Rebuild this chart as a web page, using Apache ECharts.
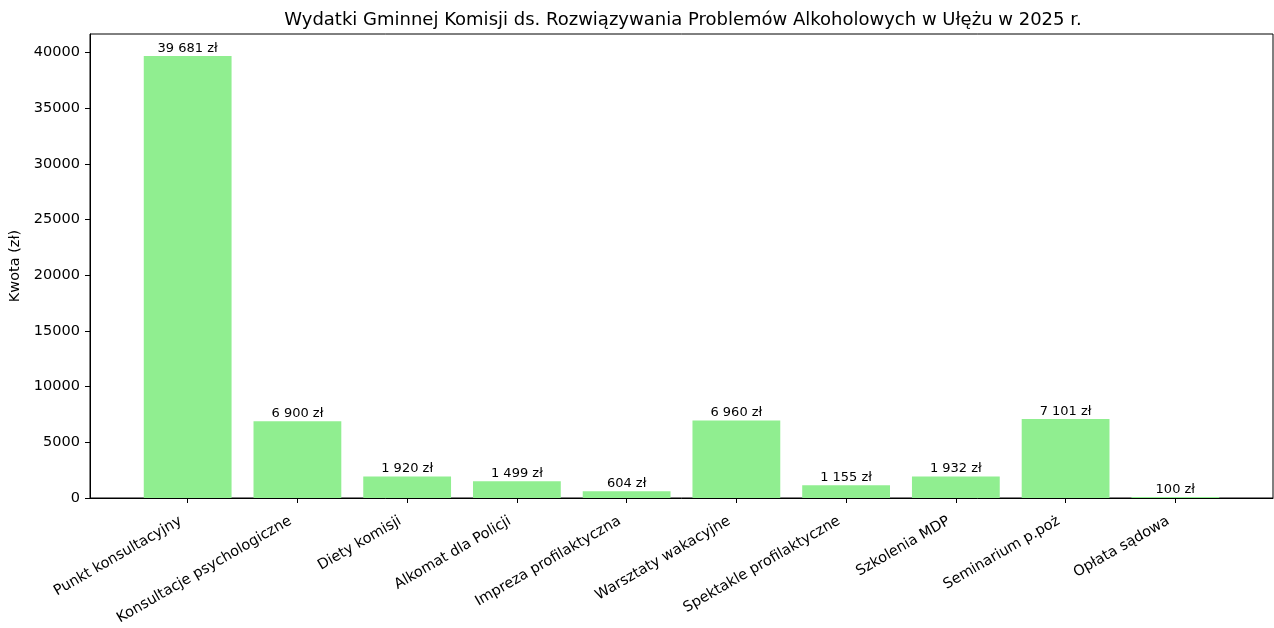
<!DOCTYPE html>
<html>
<head>
<meta charset="utf-8">
<script src="https://cdn.jsdelivr.net/npm/echarts@6/dist/echarts.min.js"></script>
<style>
  html, body { margin: 0; padding: 0; background: #fff; }
  #chart { width: 1274px; height: 628px; }
</style>
</head>
<body>
<div id="chart"></div>
<script>
// Budget lines and amounts (zł)
const categories = [
  'Punkt konsultacyjny',
  'Konsultacje psychologiczne',
  'Diety komisji',
  'Alkomat dla Policji',
  'Impreza profilaktyczna',
  'Warsztaty wakacyjne',
  'Spektakle profilaktyczne',
  'Szkolenia MDP',
  'Seminarium p.poż',
  'Opłata sądowa'
];
const amounts = [39681, 6900, 1920, 1499, 604, 6960, 1155, 1932, 7101, 100];
const yTicks = [0, 5000, 10000, 15000, 20000, 25000, 30000, 35000, 40000];

const FONT = 'DejaVu Sans';
const W = 1274, H = 628;
const gridLeft = 90, gridRight = 1, gridTop = 34, gridBottom = 130;

// x range with 5% padding around bars of relative width 0.8
const xMin = -0.89, xMax = categories.length - 1 + 0.89;
const unitPx = (W - gridLeft - gridRight) / (xMax - xMin);
const barPx = 0.8 * unitPx;
const yMax = Math.max(...amounts) * 1.05;

const fmt = v => String(v).replace(/\B(?=(\d{3})+(?!\d))/g, ' ') + ' zł';
const idx = categories.map((_, i) => i);

const chart = echarts.init(document.getElementById('chart'), null, { renderer: 'canvas' });
chart.setOption({
  animation: false,
  backgroundColor: '#fff',
  textStyle: { fontFamily: FONT },
  title: {
    text: 'Wydatki Gminnej Komisji ds. Rozwiązywania Problemów Alkoholowych w Ułężu w 2025 r.',
    left: 678,
    textAlign: 'center',
    top: 6,
    textStyle: { fontFamily: FONT, fontSize: 18, fontWeight: 'normal', color: '#000' }
  },
  grid: {
    left: gridLeft, right: gridRight, top: gridTop, bottom: gridBottom,
    outerBoundsMode: 'none',
    containLabel: false,
    show: true, borderColor: '#000', borderWidth: 1, backgroundColor: 'transparent'
  },
  xAxis: {
    type: 'value',
    min: xMin,
    max: xMax,
    splitLine: { show: false },
    axisLine: { show: true, onZero: false, lineStyle: { color: '#000', width: 1 } },
    axisTick: { show: true, customValues: idx, length: 5, lineStyle: { color: '#000' } },
    axisLabel: {
      customValues: idx,
      formatter: v => categories[Math.round(v)] || '',
      rotate: 30,
      margin: 18,
      padding: [0, 8, 0, 0],
      fontSize: 14.5,
      fontFamily: FONT,
      color: '#000'
    }
  },
  yAxis: {
    type: 'value',
    min: 0,
    max: yMax,
    splitLine: { show: false },
    axisLine: { show: true, onZero: false, lineStyle: { color: '#000', width: 1 } },
    axisTick: { show: true, customValues: yTicks, length: 5, lineStyle: { color: '#000' } },
    axisLabel: {
      customValues: yTicks,
      formatter: v => String(v),
      margin: 10,
      fontSize: 14.5,
      fontFamily: FONT,
      color: '#000'
    },
    name: 'Kwota (zł)',
    nameLocation: 'middle',
    nameGap: 62,
    nameRotate: 90,
    nameTextStyle: { fontSize: 14.5, fontFamily: FONT, color: '#000' }
  },
  series: [{
    type: 'bar',
    barWidth: barPx,
    data: amounts.map((v, i) => [i, v]),
    itemStyle: { color: '#90EE90' },
    label: {
      show: true,
      position: 'top',
      distance: 1,
      formatter: p => fmt(p.value[1]),
      fontSize: 13,
      fontFamily: FONT,
      color: '#000'
    }
  }]
});
</script>
</body>
</html>
